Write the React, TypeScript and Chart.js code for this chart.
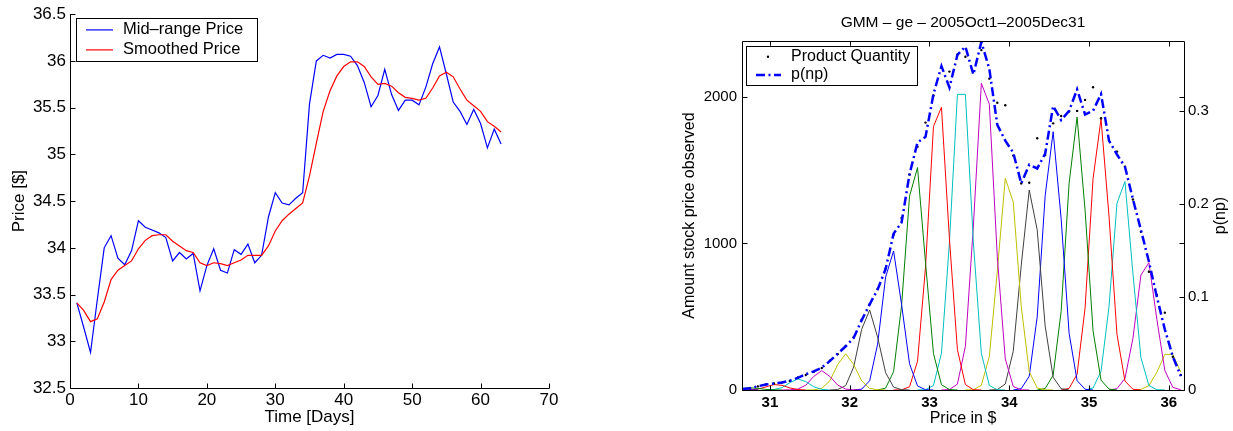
import React, { useEffect, useRef } from "react";
import { Chart, registerables } from "chart.js";

Chart.register(...registerables);

const FONT = '"Liberation Sans", Arial, Helvetica, sans-serif';

// ---------------- Left panel: price over time ----------------
const DAYS = [
  1, 2, 3, 4, 5, 6, 7, 8, 9, 10, 11, 12, 13, 14, 15, 16, 17, 18, 19, 20, 21,
  22, 23, 24, 25, 26, 27, 28, 29, 30, 31, 32, 33, 34, 35, 36, 37, 38, 39, 40,
  41, 42, 43, 44, 45, 46, 47, 48, 49, 50, 51, 52, 53, 54, 55, 56, 57, 58, 59,
  60, 61, 62, 63,
];
const MID_RANGE_PRICE = [
  33.41, 33.15, 32.88, 33.45, 34.0, 34.13, 33.89, 33.82, 33.97, 34.29, 34.22,
  34.19, 34.16, 34.11, 33.86, 33.95, 33.88, 33.94, 33.54, 33.81, 33.99, 33.76,
  33.73, 33.98, 33.93, 34.04, 33.84, 33.92, 34.33, 34.59, 34.48, 34.46, 34.53,
  34.59, 35.54, 36.0, 36.06, 36.03, 36.07, 36.07, 36.05, 35.95, 35.77, 35.51,
  35.63, 35.91, 35.64, 35.47, 35.58, 35.58, 35.53, 35.72, 35.97, 36.15, 35.86,
  35.56, 35.46, 35.32, 35.48, 35.33, 35.07, 35.27, 35.11,
];
const SMOOTHED_PRICE = [
  33.41, 33.33, 33.21, 33.24, 33.42, 33.66, 33.76, 33.81, 33.86, 33.99, 34.08,
  34.13, 34.14, 34.14, 34.07, 34.02, 33.97, 33.95, 33.84, 33.81, 33.84, 33.83,
  33.81, 33.84, 33.87, 33.92, 33.92, 33.92, 34.02, 34.18, 34.29, 34.36, 34.42,
  34.48, 34.77, 35.12, 35.46, 35.68, 35.84, 35.94, 35.99, 35.99, 35.94, 35.83,
  35.75, 35.76, 35.73, 35.66, 35.61, 35.6, 35.58, 35.6, 35.71, 35.84, 35.88,
  35.83, 35.7, 35.58, 35.52, 35.46, 35.35, 35.3, 35.24,
];
const LEFT_SERIES_LABELS = ["Mid\u2013range Price", "Smoothed Price"];
const LEFT_X_TICKS = [0, 10, 20, 30, 40, 50, 60, 70];
const LEFT_Y_TICKS = [32.5, 33, 33.5, 34, 34.5, 35, 35.5, 36, 36.5];

// ---------------- Right panel: GMM ----------------
const PRICE_GRID = [
  30.65, 30.75, 30.85, 30.95, 31.05, 31.15, 31.25, 31.35, 31.45, 31.55, 31.65,
  31.75, 31.85, 31.95, 32.05, 32.15, 32.25, 32.35, 32.45, 32.55, 32.65, 32.75,
  32.85, 32.95, 33.05, 33.15, 33.25, 33.35, 33.45, 33.55, 33.65, 33.75, 33.85,
  33.95, 34.05, 34.15, 34.25, 34.35, 34.45, 34.55, 34.65, 34.75, 34.85, 34.95,
  35.05, 35.15, 35.25, 35.35, 35.45, 35.55, 35.65, 35.75, 35.85, 35.95, 36.05,
  36.15,
];
const P_NP = [
  0.001, 0.002, 0.004, 0.006, 0.007, 0.008, 0.01, 0.013, 0.017, 0.02, 0.024,
  0.031, 0.039, 0.047, 0.056, 0.075, 0.092, 0.108, 0.13, 0.168, 0.18, 0.232,
  0.266, 0.272, 0.318, 0.348, 0.325, 0.36, 0.369, 0.339, 0.374, 0.345, 0.285,
  0.268, 0.255, 0.222, 0.242, 0.238, 0.254, 0.305, 0.29, 0.3, 0.323, 0.296,
  0.3, 0.318, 0.268, 0.253, 0.24, 0.205, 0.172, 0.138, 0.1, 0.065, 0.036,
  0.015,
];
const PRODUCT_QUANTITY = [
  5, 12, 25, 38, 45, 50, 62, 85, 102, 125, 150, 200, 245, 300, 360, 480, 585,
  690, 830, 1060, 1174, 1470, 1661, 1825, 2010, 2200, 2173, 2290, 2275, 2382,
  2320, 2125, 1961, 1943, 1600, 1410, 1415, 1718, 1604, 1820, 1870, 1900, 1905,
  1980, 2066, 1855, 1700, 1627, 1524, 1300, 1080, 807, 648, 528, 227, 102,
];
const SERIES_LABELS_RIGHT = ["Product Quantity", "p(np)"];

// index into PRICE_GRID where each mixture component's drawn values begin
const COMPONENT_START = [0, 0, 0, 3, 5, 8, 11, 14, 17, 19, 22, 25, 28, 31, 34, 37, 40, 43, 46, 49];
const COMPONENT_VALUES = [
  [3, 0.5, 0],
  [10, 15, 11, 4, 1, 0],
  [0, 1, 6, 21, 37, 32, 14, 3, 0],
  [0, 3, 16, 50, 76, 57, 22, 4, 0],
  [0, 1, 6, 33, 93, 132, 93, 33, 6, 1, 0],
  [0, 1, 11, 62, 174, 247, 174, 62, 11, 1, 0],
  [0, 3, 30, 157, 414, 546, 360, 118, 20, 2, 0],
  [0, 6, 63, 313, 771, 949, 584, 179, 28, 2, 0],
  [0, 13, 125, 575, 1323, 1518, 871, 249, 36, 3, 0],
  [0, 1, 22, 196, 838, 1799, 1930, 1032, 275, 37, 2, 0],
  [0, 2, 31, 251, 1008, 2018, 2018, 1008, 251, 31, 2, 0],
  [0, 3, 40, 299, 1119, 2093, 1951, 909, 212, 24, 1, 0],
  [0, 2, 32, 228, 812, 1445, 1283, 570, 126, 14, 1, 0],
  [0, 3, 41, 265, 851, 1365, 1093, 436, 87, 9, 0],
  [0, 9, 94, 499, 1326, 1763, 1170, 387, 64, 5, 0],
  [0, 10, 101, 535, 1412, 1863, 1229, 404, 67, 6, 0],
  [0, 11, 108, 559, 1442, 1850, 1187, 380, 61, 5, 0],
  [0, 14, 127, 569, 1274, 1423, 794, 221, 31, 2, 0],
  [0, 9, 79, 353, 784, 869, 482, 133, 18, 1],
  [0, 4, 30, 121, 243, 243, 121],
];
const COLOR_ORDER = ["#0000ff", "#008000", "#ff0000", "#00bfbf", "#bf00bf", "#bfbf00", "#404040"];

const RIGHT_X_TICKS = [31, 32, 33, 34, 35, 36];
const RIGHT_Y_TICKS = [0, 1000, 2000];
const RIGHT_Y1_TICKS = [0, 0.1, 0.2, 0.3];
const RIGHT_X_RANGE = [30.65, 36.19];
const RIGHT_Y_MAX = 2382;
const RIGHT_Y1_MAX = 0.375;

const RIGHT_TITLE = "GMM \u2013 ge \u2013 2005Oct1\u20132005Dec31";

const PNP_DASH = [9, 3.5, 2, 3.5];

function drawText(
  ctx: CanvasRenderingContext2D,
  s: string,
  x: number,
  y: number,
  size: number,
  align: CanvasTextAlign = "center",
  rotate = 0,
  bold = false
) {
  ctx.save();
  ctx.fillStyle = "#000";
  ctx.font = `${bold ? "bold " : ""}${size}px ${FONT}`;
  ctx.textAlign = align;
  ctx.textBaseline = "middle";
  ctx.translate(x, y);
  if (rotate) ctx.rotate(rotate);
  ctx.fillText(s, 0, 0);
  ctx.restore();
}

const leftDecor = {
  id: "leftDecor",
  afterDraw(chart: any) {
    const { ctx, chartArea: a, scales } = chart;
    const xs = scales.x;
    const ys = scales.y;
    ctx.save();
    ctx.strokeStyle = "#000";
    ctx.lineWidth = 1;
    const L = Math.round(a.left) + 0.5;
    const B = Math.round(a.bottom) + 0.5;
    ctx.beginPath();
    ctx.moveTo(L, Math.round(a.top));
    ctx.lineTo(L, B);
    ctx.lineTo(Math.round(a.right) + 0.5, B);
    LEFT_X_TICKS.forEach((v) => {
      const px = Math.round(xs.getPixelForValue(v)) + 0.5;
      ctx.moveTo(px, B);
      ctx.lineTo(px, B - 5);
    });
    LEFT_Y_TICKS.forEach((v) => {
      const py = Math.round(ys.getPixelForValue(v)) + 0.5;
      ctx.moveTo(L, py);
      ctx.lineTo(L + 5, py);
    });
    ctx.stroke();

    // legend
    const bx = a.left + 6;
    const by = a.top + 4;
    ctx.fillStyle = "#fff";
    ctx.fillRect(bx, by, 181, 43);
    ctx.strokeRect(Math.round(bx) + 0.5, Math.round(by) + 0.5, 181, 43);
    const rows = [a.top + 15.7, a.top + 35.7];
    const cols = ["#0000ff", "#ff0000"];
    rows.forEach((ry, i) => {
      ctx.strokeStyle = cols[i];
      ctx.lineWidth = 1.2;
      ctx.beginPath();
      ctx.moveTo(a.left + 16, ry);
      ctx.lineTo(a.left + 43, ry);
      ctx.stroke();
      drawText(ctx, LEFT_SERIES_LABELS[i], a.left + 53, ry, 16.5, "left");
    });

    // axis titles
    drawText(ctx, "Time [Days]", (a.left + a.right) / 2, 417, 17);
    drawText(ctx, "Price [$]", 19, (a.top + a.bottom) / 2, 17, "center", -Math.PI / 2);
    ctx.restore();
  },
};

const rightDecor = {
  id: "rightDecor",
  afterDraw(chart: any) {
    const { ctx, chartArea: a, scales } = chart;
    const xs = scales.x;
    const ys = scales.y;
    const y1 = scales.y1;
    ctx.save();
    ctx.strokeStyle = "#000";
    ctx.lineWidth = 1;
    const L = Math.round(a.left) + 0.5;
    const R = Math.round(a.right) + 0.5;
    const T = Math.round(a.top) + 0.5;
    const B = Math.round(a.bottom) + 0.5;
    ctx.beginPath();
    ctx.rect(L, T, R - L, B - T);
    RIGHT_X_TICKS.forEach((v) => {
      const px = Math.round(xs.getPixelForValue(v)) + 0.5;
      ctx.moveTo(px, B);
      ctx.lineTo(px, B - 5);
      ctx.moveTo(px, T);
      ctx.lineTo(px, T + 5);
    });
    RIGHT_Y_TICKS.forEach((v) => {
      const py = Math.round(ys.getPixelForValue(v)) + 0.5;
      ctx.moveTo(L, py);
      ctx.lineTo(L + 5, py);
      ctx.moveTo(R, py);
      ctx.lineTo(R - 5, py);
    });
    RIGHT_Y1_TICKS.forEach((v) => {
      const py = Math.round(y1.getPixelForValue(v)) + 0.5;
      ctx.moveTo(R, py);
      ctx.lineTo(R - 5, py);
    });
    ctx.stroke();

    // legend
    const bx = a.left + 4;
    const by = a.top + 4.7;
    ctx.fillStyle = "#fff";
    ctx.fillRect(bx, by, 171, 39);
    ctx.strokeRect(Math.round(bx) + 0.5, Math.round(by) + 0.5, 171, 39);
    const r1 = a.top + 15.7;
    const r2 = a.top + 34;
    ctx.fillStyle = "#000";
    ctx.beginPath();
    ctx.arc(a.left + 26, r1, 1.2, 0, Math.PI * 2);
    ctx.fill();
    ctx.strokeStyle = "#0000ff";
    ctx.lineWidth = 2.5;
    ctx.setLineDash(PNP_DASH);
    ctx.beginPath();
    ctx.moveTo(a.left + 14, r2);
    ctx.lineTo(a.left + 39, r2);
    ctx.stroke();
    ctx.setLineDash([]);
    drawText(ctx, SERIES_LABELS_RIGHT[0], a.left + 49, r1, 16, "left");
    drawText(ctx, SERIES_LABELS_RIGHT[1], a.left + 49, r2, 16, "left");

    // titles
    const cx = (a.left + a.right) / 2;
    const cy = (a.top + a.bottom) / 2;
    drawText(ctx, RIGHT_TITLE, cx, 22.5, 15.5);
    drawText(ctx, "Price in $", cx, 418.5, 16);
    drawText(ctx, "Amount stock price observed", a.left - 52, cy, 16, "center", -Math.PI / 2);
    drawText(ctx, "p(np)", a.right + 37, cy, 16, "center", -Math.PI / 2);
    ctx.restore();
  },
};

function fixedTicks(values: number[]) {
  return (scale: any) => {
    scale.ticks = values.map((v) => ({ value: v }));
  };
}

const tickFont = (size: number, bold = false) => ({
  family: FONT,
  size,
  weight: bold ? ("bold" as const) : ("normal" as const),
});

export default function App() {
  const leftRef = useRef<HTMLCanvasElement>(null);
  const rightRef = useRef<HTMLCanvasElement>(null);

  useEffect(() => {
    const left = new Chart(leftRef.current!, {
      type: "line",
      data: {
        datasets: [
          {
            label: LEFT_SERIES_LABELS[0],
            data: DAYS.map((d, i) => ({ x: d, y: MID_RANGE_PRICE[i] })),
            borderColor: "#0000ff",
            borderWidth: 1.2,
            pointRadius: 0,
            tension: 0,
            fill: false,
            order: 1,
          },
          {
            label: LEFT_SERIES_LABELS[1],
            data: DAYS.map((d, i) => ({ x: d, y: SMOOTHED_PRICE[i] })),
            borderColor: "#ff0000",
            borderWidth: 1.2,
            pointRadius: 0,
            tension: 0,
            fill: false,
            order: 0,
          },
        ],
      },
      options: {
        animation: false,
        responsive: false,
        devicePixelRatio: 1,
        layout: { padding: { left: 0, right: 51, top: 10, bottom: 0 } },
        plugins: { legend: { display: false }, tooltip: { enabled: false }, title: { display: false } },
        scales: {
          x: {
            type: "linear",
            min: LEFT_X_TICKS[0],
            max: LEFT_X_TICKS[LEFT_X_TICKS.length - 1],
            afterBuildTicks: fixedTicks(LEFT_X_TICKS),
            afterFit: (s: any) => {
              s.height = 43;
            },
            grid: { display: false, drawTicks: false },
            border: { display: false },
            ticks: {
              padding: 2,
              color: "#000",
              font: tickFont(17),
              maxRotation: 0,
              autoSkip: false,
              callback: (v: any) => String(v),
            },
          },
          y: {
            type: "linear",
            min: LEFT_Y_TICKS[0],
            max: LEFT_Y_TICKS[LEFT_Y_TICKS.length - 1],
            afterBuildTicks: fixedTicks(LEFT_Y_TICKS),
            afterFit: (s: any) => {
              s.width = 70;
            },
            grid: { display: false, drawTicks: false },
            border: { display: false },
            ticks: {
              padding: 4,
              color: "#000",
              font: tickFont(17),
              autoSkip: false,
              callback: (v: any) => String(v),
            },
          },
        },
      },
      plugins: [leftDecor],
    });

    const componentSets = COMPONENT_VALUES.map((vals, c) => ({
      label: `component ${c}`,
      data: vals.map((v, i) => ({ x: PRICE_GRID[COMPONENT_START[c] + i], y: v })),
      yAxisID: "y",
      borderColor: COLOR_ORDER[c % COLOR_ORDER.length],
      borderWidth: 1,
      pointRadius: 0,
      tension: 0,
      fill: false,
      order: 2,
    }));

    const right = new Chart(rightRef.current!, {
      type: "line",
      data: {
        datasets: [
          {
            label: SERIES_LABELS_RIGHT[1],
            data: PRICE_GRID.map((p, i) => ({ x: p, y: P_NP[i] })),
            yAxisID: "y1",
            borderColor: "#0000ff",
            borderWidth: 2.5,
            borderDash: PNP_DASH,
            pointRadius: 0,
            tension: 0,
            fill: false,
            order: 0,
          },
          {
            label: SERIES_LABELS_RIGHT[0],
            data: PRICE_GRID.map((p, i) => ({ x: p, y: PRODUCT_QUANTITY[i] })),
            yAxisID: "y",
            showLine: false,
            pointRadius: 1.2,
            pointBorderWidth: 0,
            pointBackgroundColor: "#000",
            borderColor: "#000",
            order: 1,
          },
          ...componentSets,
        ] as any,
      },
      options: {
        animation: false,
        responsive: false,
        devicePixelRatio: 1,
        layout: { padding: { left: 0, right: 0, top: 41, bottom: 0 } },
        plugins: { legend: { display: false }, tooltip: { enabled: false }, title: { display: false } },
        scales: {
          x: {
            type: "linear",
            min: RIGHT_X_RANGE[0],
            max: RIGHT_X_RANGE[1],
            afterBuildTicks: fixedTicks(RIGHT_X_TICKS),
            afterFit: (s: any) => {
              s.height = 41;
            },
            grid: { display: false, drawTicks: false },
            border: { display: false },
            ticks: {
              padding: 4,
              color: "#000",
              font: tickFont(15, true),
              maxRotation: 0,
              autoSkip: false,
              callback: (v: any) => String(v),
            },
          },
          y: {
            type: "linear",
            position: "left",
            min: 0,
            max: RIGHT_Y_MAX,
            afterBuildTicks: fixedTicks(RIGHT_Y_TICKS),
            afterFit: (s: any) => {
              s.width = 142;
            },
            grid: { display: false, drawTicks: false },
            border: { display: false },
            ticks: {
              padding: 5,
              color: "#000",
              font: tickFont(15),
              autoSkip: false,
              callback: (v: any) => String(v),
            },
          },
          y1: {
            type: "linear",
            position: "right",
            min: 0,
            max: RIGHT_Y1_MAX,
            afterBuildTicks: fixedTicks(RIGHT_Y1_TICKS),
            afterFit: (s: any) => {
              s.width = 49;
            },
            grid: { display: false, drawTicks: false },
            border: { display: false },
            ticks: {
              padding: 4,
              color: "#000",
              font: tickFont(15),
              autoSkip: false,
              callback: (v: any) => String(v),
            },
          },
        },
      },
      plugins: [rightDecor],
    });

    return () => {
      left.destroy();
      right.destroy();
    };
  }, []);

  return (
    <div
      style={{
        position: "absolute",
        left: 0,
        top: 0,
        width: 1233,
        height: 431,
        background: "#fff",
        overflow: "hidden",
      }}
    >
      <canvas
        ref={leftRef}
        width={600}
        height={431}
        style={{ position: "absolute", left: 0, top: 0, width: 600, height: 431 }}
      />
      <canvas
        ref={rightRef}
        width={633}
        height={431}
        style={{ position: "absolute", left: 600, top: 0, width: 633, height: 431 }}
      />
    </div>
  );
}
